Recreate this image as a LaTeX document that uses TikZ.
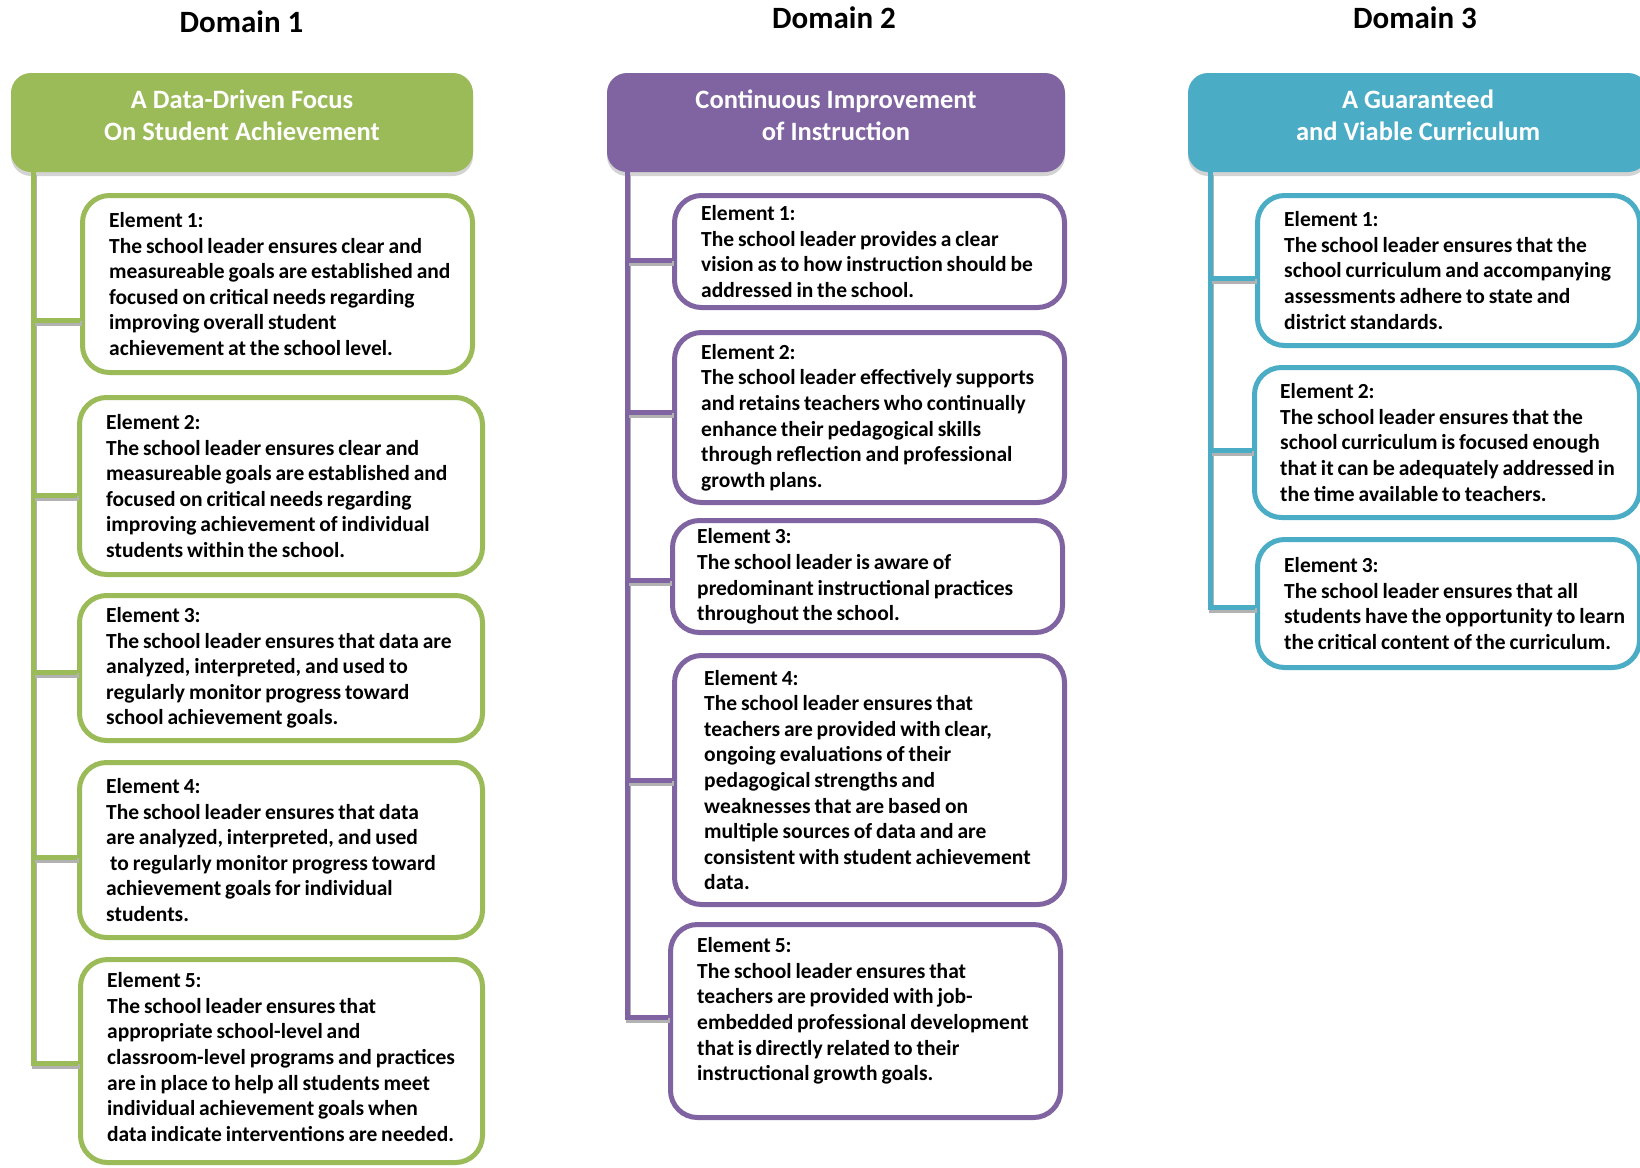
\documentclass[tikz,border=0pt]{standalone}
\usepackage{fontspec}
\setmainfont{Carlito}
\newfontfamily\elemfont{Carlito}[WordSpace=0.8]
\usetikzlibrary{calc,shadows}

\definecolor{domgreen}{HTML}{9BBB59}
\definecolor{dompurple}{HTML}{8064A2}
\definecolor{domblue}{HTML}{4BACC6}

\begin{document}
\begin{tikzpicture}[x=1pt,y=-1pt,
	domtitle/.style={font=\fontsize{31}{36}\selectfont\bfseries, inner sep=0pt, anchor=base},
	head/.style={fill=#1, rounded corners=20pt, minimum height=99pt,
		drop shadow={shadow xshift=0pt, shadow yshift=-4pt, opacity=.35}},
	headtext/.style={text=white, font=\fontsize{26.5}{32.5}\selectfont\bfseries, align=center, inner sep=0pt},
	elem/.style={draw=#1, line width=5pt, rounded corners=27pt, fill=white},
	elemtext/.style={font=\elemfont\fontsize{21.5}{25.6}\selectfont\bfseries, align=left, inner sep=0pt, anchor=west},
	link/.style={draw=#1, line width=5pt, line join=miter,
		preaction={draw=black!30, line width=5pt, transform canvas={shift={(1.5pt,-3pt)}}}}]
	\useasboundingbox (0,0) rectangle (1640,1167);

	% Domain 1
	\node[domtitle] (d1) at (241.5,32) {Domain 1};
	\node[head=domgreen, minimum width=462pt] (gh) at (242,122.5) {};
	\node[headtext] (ght) at ([yshift=7pt]gh.center) {A Data-Driven Focus\\On Student Achievement};
	\node[elem=domgreen, minimum width=390pt, minimum height=177pt] (g1) at (277.5,284) {};
	\node[elem=domgreen, minimum width=403pt, minimum height=177pt] (g2) at (281,486) {};
	\node[elem=domgreen, minimum width=403pt, minimum height=145pt] (g3) at (281,668) {};
	\node[elem=domgreen, minimum width=403pt, minimum height=175pt] (g4) at (281,850) {};
	\node[elem=domgreen, minimum width=402pt, minimum height=203pt] (g5) at (281.5,1061) {};
	\node[elemtext] (g1t) at ([xshift=29pt]g1.west) {Element 1:\\The school leader ensures clear and\\measureable goals are established and\\focused on critical needs regarding\\improving overall student\\achievement at the school level.};
	\node[elemtext] (g2t) at ([xshift=29pt]g2.west) {Element 2:\\The school leader ensures clear and\\measureable goals are established and\\focused on critical needs regarding\\improving achievement of individual\\students within the school.};
	\node[elemtext] (g3t) at ([xshift=29pt]g3.west) {Element 3:\\The school leader ensures that data are\\analyzed, interpreted, and used to\\regularly monitor progress toward\\school achievement goals.};
	\node[elemtext] (g4t) at ([xshift=29pt]g4.west) {Element 4:\\The school leader ensures that data\\are analyzed, interpreted, and used\\\hspace*{4pt}to regularly monitor progress toward\\achievement goals for individual\\students.};
	\node[elemtext] (g5t) at ([xshift=29pt,yshift=4pt]g5.west) {Element 5:\\The school leader ensures that\\appropriate school-level and\\classroom-level programs and practices\\are in place to help all students meet\\individual achievement goals when\\data indicate interventions are needed.};
	\coordinate (gb1) at (33,320);
	\coordinate (gb2) at (33,495);
	\coordinate (gb3) at (33,672);
	\coordinate (gb4) at (33,857);
	\coordinate (gb5) at (33,1063);
	\draw[link=domgreen] (gh.south -| gb5) -- (gb5) -- (gb5 -| g5.west);
	\foreach \i in {1,...,4}
		\draw[link=domgreen] (gb\i) -- (gb\i -| g\i.west);

	% Domain 2
	\node[domtitle] (d2) at (834,28) {Domain 2};
	\node[head=dompurple, minimum width=458pt] (ph) at (836,122.5) {};
	\node[headtext] (pht) at ([yshift=7pt]ph.center) {Continuous Improvement\\of Instruction};
	\node[elem=dompurple, minimum width=390pt, minimum height=112pt] (p1) at (869.5,251.5) {};
	\node[elem=dompurple, minimum width=390pt, minimum height=170pt] (p2) at (869.5,417.5) {};
	\node[elem=dompurple, minimum width=390pt, minimum height=112pt] (p3) at (867.5,576.5) {};
	\node[elem=dompurple, minimum width=390pt, minimum height=249pt] (p4) at (869.5,780) {};
	\node[elem=dompurple, minimum width=390pt, minimum height=193pt] (p5) at (865.5,1021) {};
	\node[elemtext] (p1t) at ([xshift=29pt]p1.west) {Element 1:\\The school leader provides a clear\\vision as to how instruction should be\\addressed in the school.};
	\node[elemtext] (p2t) at ([xshift=29pt]p2.west) {Element 2:\\The school leader effectively supports\\and retains teachers who continually\\enhance their pedagogical skills\\through reflection and professional\\growth plans.};
	\node[elemtext] (p3t) at ([xshift=27pt]p3.west) {Element 3:\\The school leader is aware of\\predominant instructional practices\\throughout the school.};
	\node[elemtext] (p4t) at ([xshift=32pt]p4.west) {Element 4:\\The school leader ensures that\\teachers are provided with clear,\\ongoing evaluations of their\\pedagogical strengths and\\weaknesses that are based on\\multiple sources of data and are\\consistent with student achievement\\data.};
	\node[elemtext] (p5t) at ([xshift=29pt,yshift=10pt]p5.west) {Element 5:\\The school leader ensures that\\teachers are provided with job-\\embedded professional development\\that is directly related to their\\instructional growth goals.};
	\coordinate (pb1) at (627,260);
	\coordinate (pb2) at (627,412);
	\coordinate (pb3) at (627,580);
	\coordinate (pb4) at (627,780);
	\coordinate (pb5) at (627,1017);
	\draw[link=dompurple] (ph.south -| pb5) -- (pb5) -- (pb5 -| p5.west);
	\foreach \i in {1,...,4}
		\draw[link=dompurple] (pb\i) -- (pb\i -| p\i.west);

	% Domain 3
	\node[domtitle] (d3) at (1415,28) {Domain 3};
	\node[head=domblue, minimum width=460pt] (bh) at (1418,122.5) {};
	\node[headtext] (bht) at ([yshift=7pt]bh.center) {A Guaranteed\\and Viable Curriculum};
	\node[elem=domblue, minimum width=382pt, minimum height=150pt] (b1) at (1448.5,270.5) {};
	\node[elem=domblue, minimum width=385pt, minimum height=150pt] (b2) at (1447,442.5) {};
	\node[elem=domblue, minimum width=382pt, minimum height=128pt] (b3) at (1448.5,603.5) {};
	\node[elemtext] (b1t) at ([xshift=29pt]b1.west) {Element 1:\\The school leader ensures that the\\school curriculum and accompanying\\assessments adhere to state and\\district standards.};
	\node[elemtext] (b2t) at ([xshift=28pt]b2.west) {Element 2:\\The school leader ensures that the\\school curriculum is focused enough\\that it can be adequately addressed in\\the time available to teachers.};
	\node[elemtext] (b3t) at ([xshift=29pt]b3.west) {Element 3:\\The school leader ensures that all\\students have the opportunity to learn\\the critical content of the curriculum.};
	\coordinate (bb1) at (1210,278);
	\coordinate (bb2) at (1210,450);
	\coordinate (bb3) at (1210,607);
	\draw[link=domblue] (bh.south -| bb3) -- (bb3) -- (bb3 -| b3.west);
	\foreach \i in {1,2}
		\draw[link=domblue] (bb\i) -- (bb\i -| b\i.west);
\end{tikzpicture}
\end{document}
